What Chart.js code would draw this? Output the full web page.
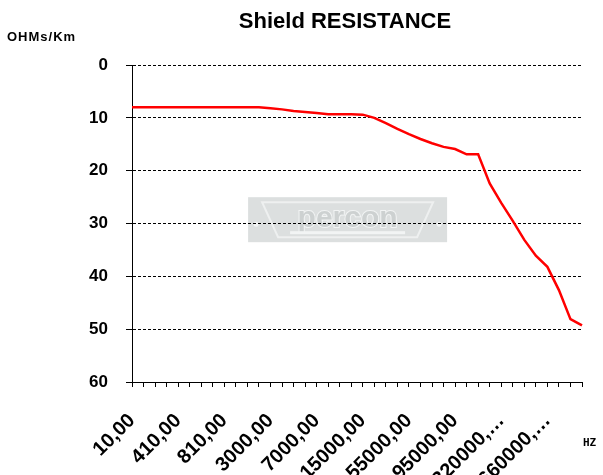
<!DOCTYPE html>
<html>
<head>
<meta charset="utf-8">
<script src="https://cdn.jsdelivr.net/npm/chart.js@4/dist/chart.umd.min.js"></script>
<style>
  html, body { margin: 0; padding: 0; background: #fff; }
  canvas { display: block; }
</style>
</head>
<body>
<canvas id="shieldChart" width="603" height="475"></canvas>
<script>
// --- Data ---
const frequencies = [10, 110, 210, 310, 410, 510, 610, 710, 810, 910,
    1000, 2000, 3000, 4000, 5000, 6000, 7000, 8000, 9000, 10000,
    15000, 25000, 35000, 45000, 55000, 65000, 75000, 85000, 95000, 150000,
    200000, 250000, 320000, 400000, 500000, 600000, 660000, 700000, 800000, 1000000];
const resistance = [8, 8, 8, 8, 8, 8, 8, 8, 8, 8, 8, 8,
    8.2, 8.4, 8.7, 8.9, 9.1, 9.3, 9.3, 9.3, 9.4, 10.0,
    11.0, 12.1, 13.1, 14.0, 14.8, 15.5, 15.9, 16.9, 16.9,
    22.4, 26.1, 29.5, 33.1, 36.1, 38.2, 42.6, 48.1, 49.3];
const yTicks = [0, 10, 20, 30, 40, 50, 60];

Chart.defaults.font.family = 'Arial, "Liberation Sans", sans-serif';
Chart.defaults.color = '#000';

// excel style label: 10,00 and long ones cut with an ellipsis
function freqLabel(v) {
    let s = v.toFixed(2).replace('.', ',');
    if (s.length > 8) s = s.slice(0, 7) + '\u2026';
    return s;
}

// watermark under the grid, title and unit captions on top
const extras = {
    id: 'extras',
    beforeDraw(chart) {
        const ctx = chart.ctx;
        const a = chart.chartArea;
        const x = a.left + (a.right - a.left) * 0.258;
        const y = a.top + (a.bottom - a.top) * 0.417;
        const w = 199, h = 45;
        ctx.save();
        ctx.fillStyle = '#dcdfdf';
        ctx.fillRect(x, y, w, h);
        ctx.strokeStyle = '#eef0f0';
        ctx.lineWidth = 2;
        ctx.beginPath();
        ctx.moveTo(x + 14, y + 5);
        ctx.lineTo(x + w - 14, y + 5);
        ctx.lineTo(x + w - 30, y + h - 5);
        ctx.lineTo(x + 30, y + h - 5);
        ctx.closePath();
        ctx.stroke();
        ctx.fillStyle = '#f2f4f4';
        ctx.beginPath(); ctx.arc(x + 8, y + 27, 2.5, 0, Math.PI * 2); ctx.fill();
        ctx.beginPath(); ctx.arc(x + w - 8, y + 27, 2.5, 0, Math.PI * 2); ctx.fill();
        ctx.font = 'bold 30px Arial, "Liberation Sans"';
        ctx.textAlign = 'center';
        ctx.textBaseline = 'alphabetic';
        ctx.lineWidth = 2;
        ctx.strokeStyle = '#f2f4f4';
        ctx.strokeText('percon', x + w / 2, y + 30);
        ctx.fillStyle = '#cdd1d1';
        ctx.fillText('percon', x + w / 2, y + 30);
        ctx.fillStyle = '#f2f4f4';
        ctx.fillRect(x + 42, y + 34, w - 84, 3);
        ctx.restore();
    },
    afterDraw(chart) {
        const ctx = chart.ctx;
        ctx.save();
        ctx.fillStyle = '#000';
        ctx.textAlign = 'center';
        ctx.font = 'bold 22px Arial, "Liberation Sans"';
        ctx.fillText('Shield RESISTANCE', 345, 28);
        ctx.textAlign = 'left';
        ctx.font = 'bold 13px Arial, "Liberation Sans"';
        ctx.letterSpacing = '1px';
        ctx.fillText('OHMs/Km', 7, 41);
        ctx.letterSpacing = '0px';
        ctx.font = 'bold 11px "DejaVu Sans Mono", monospace';
        ctx.fillText('HZ', 583, 446);
        ctx.restore();
    }
};

const ctx = document.getElementById('shieldChart').getContext('2d');
new Chart(ctx, {
    type: 'line',
    data: {
        labels: frequencies,
        datasets: [{
            label: 'Shield resistance',
            data: resistance,
            borderColor: '#ff0000',
            borderWidth: 2.5,
            pointRadius: 0,
            tension: 0,
            fill: false
        }]
    },
    options: {
        responsive: false,
        animation: false,
        layout: { padding: { left: 0, right: 21, top: 65, bottom: 0 } },
        plugins: {
            legend: { display: false },
            tooltip: { enabled: false },
            title: { display: false }
        },
        scales: {
            x: {
                offset: false,
                afterFit(scale) {
                    scale.height = 93;
                    scale.paddingRight = 0;
                },
                grid: { drawOnChartArea: false, drawTicks: true, tickLength: 5, color: '#000' },
                border: { color: '#000', width: 1 },
                ticks: {
                    autoSkip: false,
                    minRotation: 45,
                    maxRotation: 45,
                    padding: 22,
                    font: { size: 20, weight: 'bold' },
                    callback(value, index) {
                        return index % 4 === 0 ? freqLabel(frequencies[index]) : '';
                    }
                }
            },
            y: {
                reverse: true,
                min: yTicks[0],
                max: yTicks[yTicks.length - 1],
                afterFit(scale) {
                    scale.width = 132;
                    scale.paddingTop = 0;
                },
                afterBuildTicks(scale) { scale.ticks = yTicks.map(v => ({ value: v })); },
                grid: { color: '#000', lineWidth: 1, tickLength: 6, tickBorderDash: [] },
                border: { color: '#000', width: 1, dash: [3, 2] },
                ticks: {
                    padding: 18,
                    font: { size: 17, weight: 'bold' }
                }
            }
        }
    },
    plugins: [extras]
});
</script>
</body>
</html>
